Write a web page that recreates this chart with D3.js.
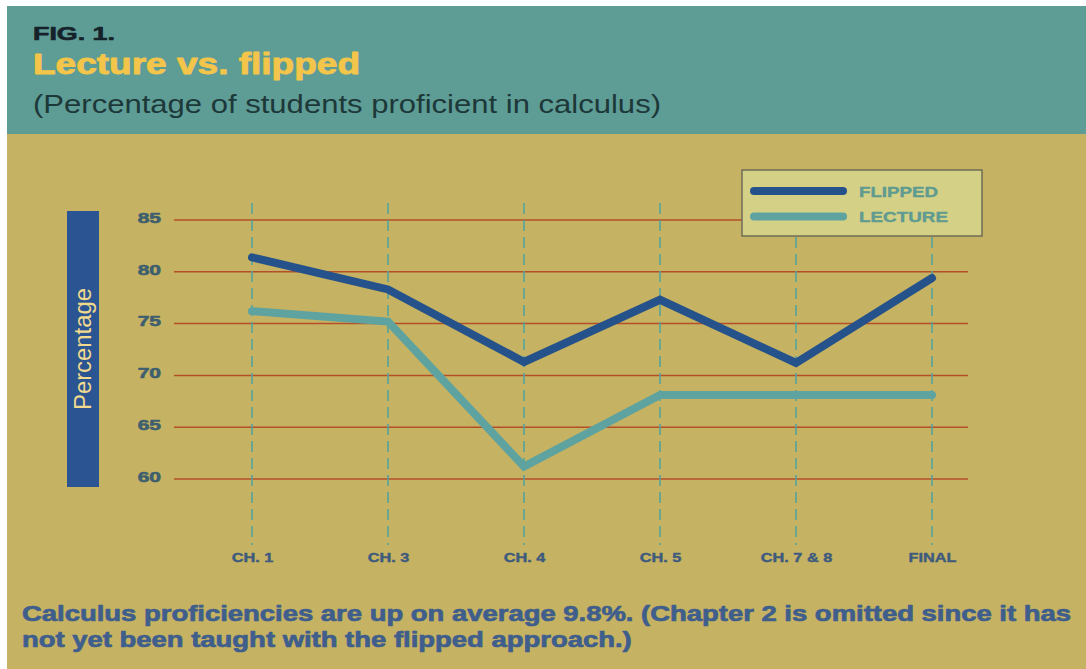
<!DOCTYPE html>
<html><head><meta charset="utf-8">
<script src="https://cdn.jsdelivr.net/npm/d3@7"></script>
<style>html,body{margin:0;padding:0;background:#fff;}svg{display:block;}</style>
</head><body>
<svg id="chart" width="1086" height="669"></svg>
<script>
const categories = ["CH. 1", "CH. 3", "CH. 4", "CH. 5", "CH. 7 & 8", "FINAL"];
const flipped = [81.4, 78.3, 71.3, 77.3, 71.2, 79.4];
const lecture = [76.2, 75.2, 61.2, 68.1, 68.1, 68.1];
const yTicks = [60, 65, 70, 75, 80, 85];
const seriesNames = ["FLIPPED", "LECTURE"];

const svg = d3.select("#chart");
const W = 1086, H = 669;
const font = "'Liberation Sans', Arial, Helvetica, sans-serif";

// stretch a text horizontally to a given width (wide display face in the original)
function stretch(sel, target) {
  sel.each(function () {
    this.setAttribute("textLength", target);
    this.setAttribute("lengthAdjust", "spacingAndGlyphs");
  });
}
function stretchBy(sel, factor) {
  sel.each(function () {
    const w = this.getComputedTextLength();
    this.setAttribute("textLength", w * factor);
    this.setAttribute("lengthAdjust", "spacingAndGlyphs");
  });
}
// heavier weight (original uses a black/heavy face)
function heavy(sel, color, w) {
  sel.attr("stroke", color).attr("stroke-width", w).attr("stroke-linejoin", "round");
}

// backgrounds
svg.append("rect").attr("x", 7).attr("y", 6).attr("width", W - 7).attr("height", 128).attr("fill", "#5e9c96");
svg.append("rect").attr("x", 7).attr("y", 134).attr("width", W - 7).attr("height", H - 134).attr("fill", "#c5b262");

// header
svg.append("text").attr("x", 33).attr("y", 40).attr("font-family", font).attr("font-weight", "bold")
  .attr("font-size", 18).attr("fill", "#16222a").text("FIG. 1.").call(stretch, 82).call(heavy, "#16222a", 0.6);
svg.append("text").attr("x", 33).attr("y", 74).attr("font-family", font).attr("font-weight", "bold")
  .attr("font-size", 29).attr("fill", "#f3c54a").text("Lecture vs. flipped").call(stretch, 327).call(heavy, "#f3c54a", 0.9);
svg.append("text").attr("x", 33).attr("y", 113).attr("font-family", font)
  .attr("font-size", 26).attr("fill", "#1d3838").text("(Percentage of students proficient in calculus)").call(stretch, 628);

// scales
const x = d3.scalePoint().domain(categories).range([252, 932]);
const y = d3.scaleLinear().domain([60, 85]).range([479, 220]);

// y tick labels
const yAxis = d3.axisLeft(y).tickValues(yTicks).tickSize(0).tickPadding(0);
const gy = svg.append("g").attr("transform", "translate(161,0)").call(yAxis);
gy.select(".domain").remove();
gy.selectAll("text").attr("font-family", font).attr("font-weight", "bold").attr("font-size", 15)
  .attr("fill", "#3e5f6e").attr("dy", "0.15em").call(stretchBy, 1.4).call(heavy, "#3e5f6e", 0.6);

// horizontal grid
svg.append("g").selectAll("line").data(yTicks).join("line")
  .attr("x1", 174).attr("x2", 968).attr("y1", d => y(d)).attr("y2", d => y(d))
  .attr("stroke", "#b44f2a").attr("stroke-width", 1.5);

// vertical dashed lines
svg.append("g").selectAll("line").data(categories).join("line")
  .attr("x1", d => x(d)).attr("x2", d => x(d)).attr("y1", 203).attr("y2", 545)
  .attr("stroke", "#4ea3a0").attr("stroke-width", 1.5).attr("stroke-dasharray", "11,6");

// x labels
const xAxis = d3.axisBottom(x).tickSize(0).tickPadding(0);
const gx = svg.append("g").attr("transform", "translate(0,562)").call(xAxis);
gx.select(".domain").remove();
gx.selectAll("text").attr("font-family", font)
  .attr("font-weight", "bold").attr("font-size", 13).attr("fill", "#3e5a7e").attr("dy", 0)
  .call(stretchBy, 1.25).call(heavy, "#3e5a7e", 0.4);

// lines
const line = d3.line().x((d, i) => x(categories[i])).y(d => y(d));
svg.append("path").datum(lecture).attr("d", line).attr("fill", "none")
  .attr("stroke", "#5ea3a0").attr("stroke-width", 8).attr("stroke-linejoin", "miter").attr("stroke-linecap", "round");
svg.append("path").datum(flipped).attr("d", line).attr("fill", "none")
  .attr("stroke", "#25528a").attr("stroke-width", 8).attr("stroke-linejoin", "miter").attr("stroke-linecap", "round");

// y label box
svg.append("rect").attr("x", 67).attr("y", 211).attr("width", 32).attr("height", 276).attr("fill", "#2a5592");
svg.append("text").attr("transform", "translate(91,349) rotate(-90)").attr("text-anchor", "middle")
  .attr("font-family", font).attr("font-size", 23).attr("fill", "#f1d98e").text("Percentage").call(stretch, 122);

// legend
const lg = svg.append("g");
lg.append("rect").attr("x", 742).attr("y", 170).attr("width", 240).attr("height", 66)
  .attr("fill", "#d4d186").attr("stroke", "#6e6c58").attr("stroke-width", 1.5);
const legColors = ["#25528a", "#5ea3a0"];
const legWidths = [79, 89];
seriesNames.forEach((n, i) => {
  const ly = 191 + i * 25.5;
  lg.append("line").attr("x1", 754).attr("x2", 843).attr("y1", ly).attr("y2", ly)
    .attr("stroke", legColors[i]).attr("stroke-width", 8).attr("stroke-linecap", "round");
  lg.append("text").attr("x", 859).attr("y", ly + 5.5).attr("font-family", font).attr("font-weight", "bold")
    .attr("font-size", 15).attr("fill", "#5f9b90").text(n).call(stretch, legWidths[i]).call(heavy, "#5f9b90", 0.4);
});

// footer
const foot = ["Calculus proficiencies are up on average 9.8%. (Chapter 2 is omitted since it has",
              "not yet been taught with the flipped approach.)"];
const f1 = svg.append("text").attr("x", 22).attr("y", 621).attr("font-family", font).attr("font-weight", "bold")
  .attr("font-size", 22).attr("fill", "#3f5e8c").text(foot[0]);
const factor = 1049 / f1.node().getComputedTextLength();
f1.call(stretchBy, factor).call(heavy, "#3f5e8c", 0.7);
svg.append("text").attr("x", 22).attr("y", 647).attr("font-family", font).attr("font-weight", "bold")
  .attr("font-size", 22).attr("fill", "#3f5e8c").text(foot[1]).call(stretchBy, factor).call(heavy, "#3f5e8c", 0.7);
</script>
</body></html>
